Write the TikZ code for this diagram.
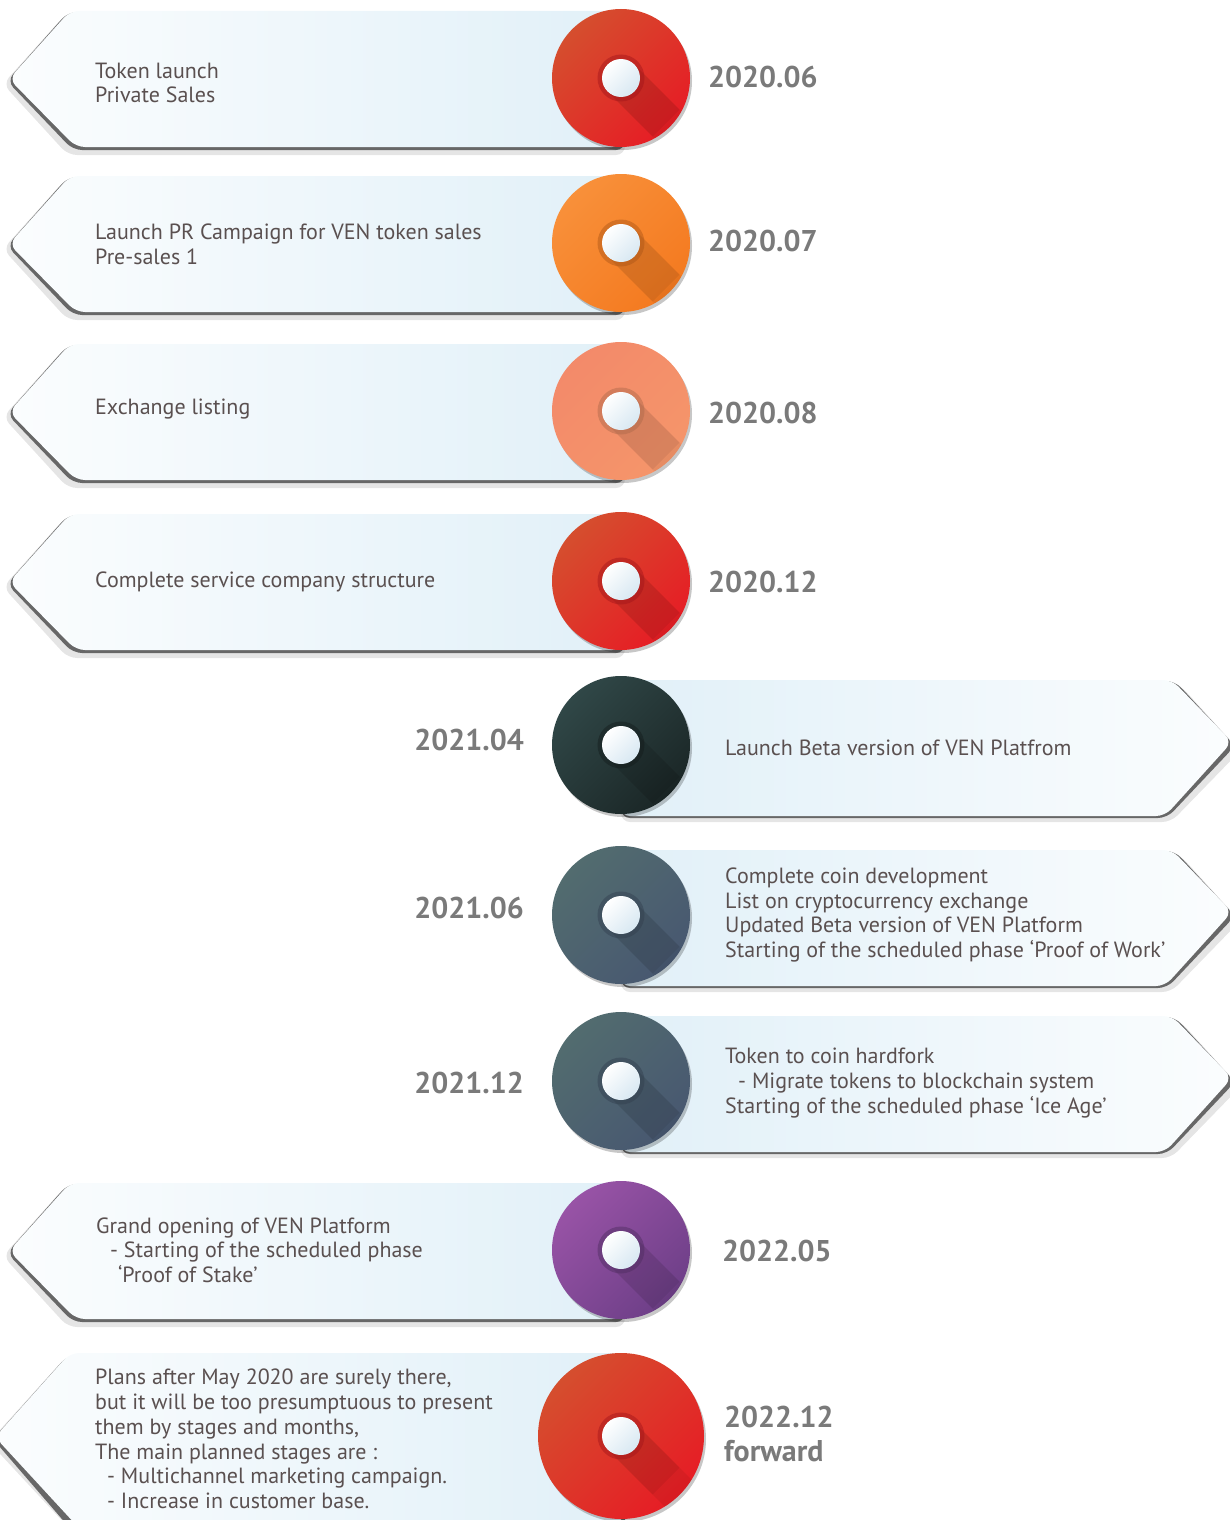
\documentclass[tikz,border=0pt]{standalone}
\usepackage{fontspec}
\setmainfont{PT Sans}
\usepackage{tikz}

\definecolor{txt}{HTML}{5A5050}
\definecolor{datecol}{HTML}{7A7A7A}
\definecolor{bandlight}{HTML}{FBFDFE}
\definecolor{bandblue}{HTML}{E1F0F8}
\definecolor{dotlight}{HTML}{D8E8F2}
\definecolor{redA}{HTML}{D54E2E}
\definecolor{redB}{HTML}{E61D25}
\definecolor{orangeA}{HTML}{F8903A}
\definecolor{orangeB}{HTML}{F47A20}
\definecolor{salmonA}{HTML}{F38A6A}
\definecolor{salmonB}{HTML}{F5956A}
\definecolor{darkA}{HTML}{304747}
\definecolor{darkB}{HTML}{1B2727}
\definecolor{slateA}{HTML}{526C6F}
\definecolor{slateB}{HTML}{485870}
\definecolor{purpleA}{HTML}{9853A6}
\definecolor{purpleB}{HTML}{6E3F88}

\tikzset{
  note/.style={text=txt,font=\fontsize{22}{24.7}\selectfont,align=left,anchor=west,inner sep=0pt},
  datelbl/.style={text=datecol,font=\fontsize{30}{34}\selectfont\bfseries,align=left,inner sep=0pt},
  band/.style={rounded corners=9pt},
  dot/.style={circle,inner sep=0pt}
}

\begin{document}
\begin{tikzpicture}[x=1pt,y=-1pt]
\useasboundingbox (0,0) rectangle (1229,1520);

% bands pointing left
\foreach \n/\y in {1/78,2/243,3/411,4/581,8/1250}{
  \fill[black,opacity=.1,band] (64,\y-62) -- (625,\y-62) -- (625,\y+77) -- (68,\y+77) -- (3,\y+6) -- cycle;
  \fill[black,opacity=.55,band] (68,\y-66) -- (625,\y-66) -- (625,\y+72) -- (73,\y+72) -- (7,\y+3) -- cycle;
  \shade[band,left color=bandlight,right color=bandblue] (70,\y-67) -- (621,\y-67) -- (621,\y+69) -- (76,\y+69) -- (9,\y+1) -- cycle;
}
\fill[black,opacity=.1,band] (64,1359) -- (625,1359) -- (625,1540) -- (80,1540) -- (-11,1442) -- cycle;
\fill[black,opacity=.55,band] (68,1355) -- (625,1355) -- (625,1540) -- (80,1540) -- (-7,1439) -- cycle;
\shade[band,left color=bandlight,right color=bandblue] (70,1353) -- (621,1353) -- (621,1540) -- (90,1540) -- (-5,1437) -- cycle;

% bands pointing right
\foreach \n/\y in {5/745,6/915,7/1081}{
  \fill[black,opacity=.1,band] (621,\y-60) -- (1180,\y-60) -- (1240,\y+6) -- (1171,\y+77) -- (621,\y+77) -- cycle;
  \fill[black,opacity=.55,band] (621,\y-64) -- (1175,\y-64) -- (1235,\y+1) -- (1167,\y+73) -- (621,\y+73) -- cycle;
  \shade[band,left color=bandblue,right color=bandlight] (621,\y-65) -- (1172,\y-65) -- (1232,\y-3) -- (1165,\y+71) -- (621,\y+71) -- cycle;
}

% circles
\foreach \n/\y/\r/\ca/\cb in {1/78/69/redA/redB,2/243/69/orangeA/orangeB,3/411/69/salmonA/salmonB,
    4/581/69/redA/redB,5/745/69/darkA/darkB,6/915/69/slateA/slateB,7/1081/69/slateA/slateB,
    8/1250/69/purpleA/purpleB,9/1436/83/redA/redB}{
  \fill[black,opacity=.22] (623,\y+3) circle (\r);
  \node[dot,minimum size=2*\r,top color=\ca,bottom color=\cb,shading angle=45] (c\n) at (621,\y) {};
  \begin{scope}
    \clip (621,\y) circle (\r);
    \fill[black,opacity=.06] (607.6,\y+13.4) -- ++(75,75) -- ++(26.8,-26.8) -- ++(-75,-75) -- cycle;
    \fill[black,opacity=.06] (607.6,\y+13.4) -- ++(45,45) -- ++(26.8,-26.8) -- ++(-45,-45) -- cycle;
  \end{scope}
  \fill[\cb!70!black,opacity=.45] (c\n) circle (23.5);
  \node[dot,minimum size=38,top color=white,bottom color=dotlight,shading angle=45] (w\n) at (c\n) {};
}

% texts
\node[note] (t1) at (95,83) {Token launch\\Private Sales};
\node[note] (t2) at (95,244) {Launch PR Campaign for VEN token sales\\Pre-sales 1};
\node[note] (t3) at (95,409) {Exchange listing};
\node[note] (t4) at (95,582) {Complete service company structure};
\node[note] (t5) at (725,748) {Launch Beta version of VEN Platfrom};
\node[note] (t6) at (725,915) {Complete coin development\\List on cryptocurrency exchange\\Updated Beta version of VEN Platform\\Starting of the scheduled phase ‘Proof of Work’};
\node[note] (t7) at (725,1083) {Token to coin hardfork\\\hspace*{13pt}- Migrate tokens to blockchain system\\Starting of the scheduled phase ‘Ice Age’};
\node[note] (t8) at (96,1250) {Grand opening of VEN Platform\\\hspace*{14pt}- Starting of the scheduled phase\\\hspace*{22pt}‘Proof of Stake’};
\node[note] (t9) at (95,1439) {Plans after May 2020 are surely there,\\but it will be too presumptuous to present\\them by stages and months,\\The main planned stages are :\\\hspace*{12pt}- Multichannel marketing campaign.\\\hspace*{12pt}- Increase in customer base.};

% dates
\foreach \n/\x/\y/\date in {1/708/77/2020.06,2/708/241/2020.07,3/708/413/2020.08,4/708/582/2020.12,8/722/1251/2022.05}
  \node[datelbl,anchor=west] (d\n) at (\x,\y) {\date};
\foreach \n/\y/\date in {5/740/2021.04,6/908/2021.06,7/1083/2021.12}
  \node[datelbl,anchor=east] (d\n) at (524,\y) {\date};
\node[datelbl,anchor=west] (d9) at (724,1434) {2022.12\\forward};
\end{tikzpicture}
\end{document}
